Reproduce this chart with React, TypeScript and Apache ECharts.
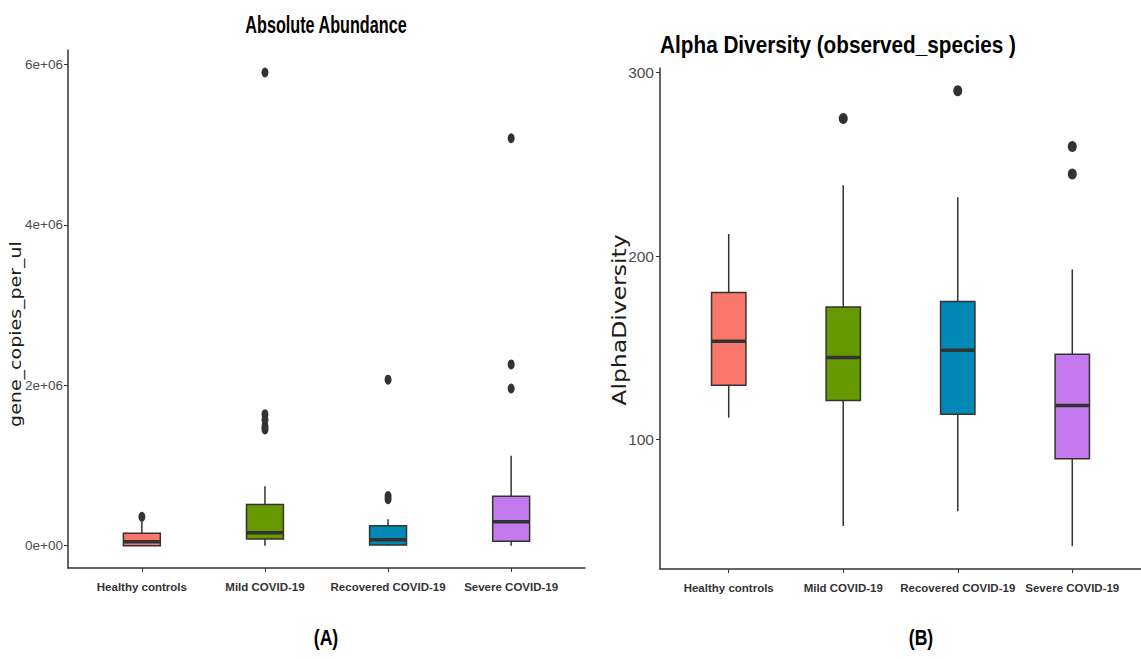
import React, { useEffect, useRef } from "react";
import * as echarts from "echarts";

// ---------- shared categories ----------
const groups = ["Healthy controls", "Mild COVID-19", "Recovered COVID-19", "Severe COVID-19"];
const groupColors = ["#F8776A", "#669900", "#0088B7", "#C479EC"];

// ---------- Panel A: Absolute Abundance ----------
const absMin = [0, 0, 0, 0];
const absQ1 = [0, 0.083e6, 0.01e6, 0.054e6];
const absMedian = [0.05e6, 0.16e6, 0.075e6, 0.3e6];
const absQ3 = [0.155e6, 0.515e6, 0.25e6, 0.615e6];
const absMax = [0.3e6, 0.74e6, 0.33e6, 1.12e6];
const absOutlierGroup = [0, 1, 1, 1, 1, 1, 2, 2, 2, 3, 3, 3];
const absOutlierValue = [0.36e6, 1.45e6, 1.49e6, 1.57e6, 1.64e6, 5.9e6, 0.58e6, 0.62e6, 2.07e6, 1.96e6, 2.26e6, 5.08e6];
const absTickValues = [0, 2e6, 4e6, 6e6];
const absTickLabels = ["0e+00", "2e+06", "4e+06", "6e+06"];

// ---------- Panel B: Alpha Diversity ----------
const alphaMin = [112, 53, 61, 42];
const alphaQ1 = [129.6, 121.4, 113.9, 89.6];
const alphaMedian = [153.6, 144.7, 148.7, 118.6];
const alphaQ3 = [180.2, 172.3, 175.3, 146.5];
const alphaMax = [212, 238.6, 232, 192.7];
const alphaOutlierGroup = [1, 2, 3, 3];
const alphaOutlierValue = [274.9, 290, 244.7, 259.6];
const alphaTickValues = [100, 200, 300];
const alphaTickLabels = ["100", "200", "300"];

const BOX_W = 0.3;
const STROKE = "#333333";
const SANS = '"Liberation Sans", Arial, sans-serif';

const renderBox = (params: any, api: any) => {
  const x = api.value(0);
  const pLo = api.coord([x, api.value(1)]);
  const pQ1 = api.coord([x, api.value(2)]);
  const pMed = api.coord([x, api.value(3)]);
  const pQ3 = api.coord([x, api.value(4)]);
  const pHi = api.coord([x, api.value(5)]);
  const half = api.size([BOX_W, 0])[0] / 2;
  const color = groupColors[params.dataIndex];
  return {
    type: "group",
    children: [
      { type: "line", shape: { x1: pLo[0], y1: pLo[1], x2: pQ1[0], y2: pQ1[1] }, style: { stroke: STROKE, lineWidth: 1.5 } },
      { type: "line", shape: { x1: pQ3[0], y1: pQ3[1], x2: pHi[0], y2: pHi[1] }, style: { stroke: STROKE, lineWidth: 1.5 } },
      {
        type: "rect",
        shape: { x: pQ3[0] - half, y: pQ3[1], width: half * 2, height: pQ1[1] - pQ3[1] },
        style: { fill: color, stroke: STROKE, lineWidth: 1.5 },
      },
      { type: "line", shape: { x1: pMed[0] - half, y1: pMed[1], x2: pMed[0] + half, y2: pMed[1] }, style: { stroke: STROKE, lineWidth: 3.5 } },
    ],
  };
};

const boxData = (mn: number[], q1: number[], md: number[], q3: number[], mx: number[]) =>
  groups.map((_, i) => [i + 1, mn[i], q1[i], md[i], q3[i], mx[i]]);

const outlierData = (g: number[], v: number[]) => v.map((val, k) => [g[k] + 1, val]);

const xAxisCfg = (gridIndex: number) => ({
  type: "value",
  gridIndex,
  min: 0.4,
  max: 4.6,
  splitLine: { show: false },
  axisLine: { show: true, onZero: false, lineStyle: { color: STROKE, width: 1.5 } },
  axisTick: { show: true, customValues: [1, 2, 3, 4], length: 4, lineStyle: { color: STROKE, width: 1 } },
  axisLabel: {
    customValues: [1, 2, 3, 4],
    formatter: (v: number) => groups[Math.round(v) - 1],
    fontFamily: SANS,
    fontWeight: "bold",
    fontSize: 11.5,
    color: "#333333",
    margin: 13,
    hideOverlap: false,
  },
});

export default function App() {
  const ref = useRef<HTMLDivElement>(null);
  useEffect(() => {
    if (!ref.current) return;
    const chart = echarts.init(ref.current, undefined, { renderer: "svg" });
    chart.setOption({
      animation: false,
      backgroundColor: "#ffffff",
      grid: [
        { left: 68, right: 556, top: 50, bottom: 91 },
        { left: 660, right: -4, top: 68, bottom: 90 },
      ],
      xAxis: [xAxisCfg(0), xAxisCfg(1)],
      yAxis: [
        {
          type: "value",
          gridIndex: 0,
          min: -0.278e6,
          max: 6.18e6,
          splitLine: { show: false },
          axisLine: { show: true, onZero: false, lineStyle: { color: STROKE, width: 1.5 } },
          axisTick: { show: true, customValues: absTickValues, length: 4, lineStyle: { color: STROKE } },
          axisLabel: {
            customValues: absTickValues,
            formatter: (v: number) => absTickLabels[absTickValues.indexOf(v)] ?? "",
            fontFamily: SANS,
            fontSize: 13.5,
            color: "#4D4D4D",
            margin: 5,
          },
        },
        {
          type: "value",
          gridIndex: 1,
          min: 29.6,
          max: 302.4,
          splitLine: { show: false },
          axisLine: { show: true, onZero: false, lineStyle: { color: STROKE, width: 1.5 } },
          axisTick: { show: true, customValues: alphaTickValues, length: 4, lineStyle: { color: STROKE } },
          axisLabel: {
            customValues: alphaTickValues,
            formatter: (v: number) => alphaTickLabels[alphaTickValues.indexOf(v)] ?? "",
            fontFamily: SANS,
            fontSize: 15.5,
            color: "#4D4D4D",
            margin: 6,
          },
        },
      ],
      series: [
        {
          type: "custom",
          xAxisIndex: 0,
          yAxisIndex: 0,
          renderItem: renderBox,
          encode: { x: 0, y: [1, 2, 3, 4, 5] },
          data: boxData(absMin, absQ1, absMedian, absQ3, absMax),
        },
        {
          type: "scatter",
          xAxisIndex: 0,
          yAxisIndex: 0,
          symbol: "circle",
          symbolSize: [7, 10],
          itemStyle: { color: STROKE, opacity: 1 },
          data: outlierData(absOutlierGroup, absOutlierValue),
        },
        {
          type: "custom",
          xAxisIndex: 1,
          yAxisIndex: 1,
          renderItem: renderBox,
          encode: { x: 0, y: [1, 2, 3, 4, 5] },
          data: boxData(alphaMin, alphaQ1, alphaMedian, alphaQ3, alphaMax),
        },
        {
          type: "scatter",
          xAxisIndex: 1,
          yAxisIndex: 1,
          symbol: "circle",
          symbolSize: [9, 11],
          itemStyle: { color: STROKE, opacity: 1 },
          data: outlierData(alphaOutlierGroup, alphaOutlierValue),
        },
      ],
      graphic: [
        {
          type: "text",
          x: 326,
          y: 24,
          scaleX: 0.675,
          style: { text: "Absolute Abundance", font: 'bold 24px "Liberation Sans", Arial, sans-serif', fill: "#000", align: "center", verticalAlign: "middle" },
        },
        {
          type: "text",
          x: 838,
          y: 45,
          scaleX: 0.864,
          style: { text: "Alpha Diversity (observed_species )", font: 'bold 24px "Liberation Sans", Arial, sans-serif', fill: "#000", align: "center", verticalAlign: "middle" },
        },
        {
          type: "text",
          x: 16,
          y: 334,
          rotation: Math.PI / 2,
          scaleY: 0.85,
          style: { text: "gene_copies_per_ul", font: '19px "DejaVu Sans", sans-serif', fill: "#1a1a1a", align: "center", verticalAlign: "middle" },
        },
        {
          type: "text",
          x: 619,
          y: 320,
          rotation: Math.PI / 2,
          scaleY: 0.85,
          style: { text: "AlphaDiversity", font: '23.5px "DejaVu Sans", sans-serif', fill: "#1a1a1a", align: "center", verticalAlign: "middle" },
        },
        {
          type: "text",
          x: 326,
          y: 637,
          scaleX: 0.8,
          style: { text: "(A)", font: 'bold 22px "Liberation Sans", Arial, sans-serif', fill: "#000", align: "center", verticalAlign: "middle" },
        },
        {
          type: "text",
          x: 921,
          y: 637,
          scaleX: 0.8,
          style: { text: "(B)", font: 'bold 22px "Liberation Sans", Arial, sans-serif', fill: "#000", align: "center", verticalAlign: "middle" },
        },
      ],
    });
    return () => chart.dispose();
  }, []);
  return (
    <div
      ref={ref}
      style={{ position: "fixed", left: 0, top: 0, width: 1141, height: 659, background: "#fff", overflow: "hidden" }}
    />
  );
}
